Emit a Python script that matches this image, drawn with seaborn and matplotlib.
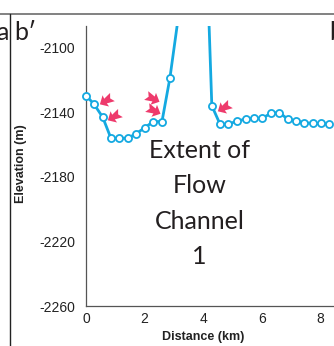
import numpy as np
import pandas as pd
import matplotlib
matplotlib.use("Agg")
import matplotlib.pyplot as plt
from matplotlib.path import Path
from matplotlib.lines import Line2D
import seaborn as sns

# ---- data ----
distance_km = [0.0, 0.27, 0.57, 0.85, 1.14, 1.42, 1.70, 2.01, 2.29, 2.59, 2.86,
               3.46, 4.11,
               4.29, 4.57, 4.85, 5.16, 5.44, 5.73, 6.01, 6.31, 6.59, 6.88, 7.16,
               7.44, 7.73, 8.01, 8.30]
elevation_m = [-2129.7, -2134.9, -2143.1, -2156.1, -2156.1, -2156.1, -2153.4,
               -2149.5, -2145.8, -2145.8, -2118.9,
               -2040.0, -2040.0,
               -2136.0, -2147.4, -2147.4, -2145.4, -2144.3, -2143.7, -2143.7,
               -2140.6, -2140.2, -2144.3, -2145.4, -2146.5, -2146.9, -2146.9,
               -2147.4]
x_ticks = [0, 2, 4, 6, 8]
y_ticks = [-2100, -2140, -2180, -2220, -2260]
channel_text = ["Extent of", "Flow", "Channel", "1"]
# arrow annotations: (x, y, angle in degrees)
arrow_x = [0.68, 0.95, 2.25, 2.28, 4.70]
arrow_y = [-2132.4, -2142.3, -2131.1, -2138.6, -2136.7]
arrow_angle = [210, 210, -25, -25, 210]

YMIN, YMAX = -2260, -2086.6
XMIN, XMAX = 0, 8.6

sns.set_style("white")
plt.rcParams["font.family"] = ["Liberation Sans", "DejaVu Sans"]
plt.rcParams["axes.unicode_minus"] = False

df = pd.DataFrame({"distance": distance_km, "elevation": elevation_m})
df_in = df[(df.elevation >= YMIN) & (df.elevation <= YMAX)]

fig = plt.figure(figsize=(3.34, 3.46), dpi=100)
ax = fig.add_axes([86 / 334, 40 / 346, (XMAX - XMIN) * 29.33 / 334, 280 / 346])

line_color = "#14A9E1"
sns.lineplot(data=df, x="distance", y="elevation", ax=ax, color=line_color,
             linewidth=2.0, sort=False, estimator=None)
sns.scatterplot(data=df_in, x="distance", y="elevation", ax=ax, s=26,
                facecolor="white", edgecolor=line_color, linewidth=1.3,
                clip_on=False, zorder=5)

ax.set_xlim(XMIN, XMAX)
ax.set_ylim(YMIN, YMAX)
ax.set_xticks(x_ticks)
ax.set_yticks(y_ticks)
ax.set_xticklabels([str(v) for v in x_ticks])
ax.set_yticklabels([str(v) for v in y_ticks])

for s in ["top", "right"]:
    ax.spines[s].set_visible(False)
for s in ["left", "bottom"]:
    ax.spines[s].set_color("#555555")
    ax.spines[s].set_linewidth(0.9)
ax.tick_params(axis="both", direction="out", length=3, width=0.8,
               color="#555555", labelsize=10, labelcolor="#222222")
ax.tick_params(axis="y", pad=5)
ax.tick_params(axis="x", pad=1.5)

ax.set_xlabel("Distance (km)", fontsize=9, fontweight="bold", color="#222222")
ax.set_ylabel("Elevation (m)", fontsize=9, fontweight="bold", color="#222222")
ax.xaxis.set_label_coords(0.464, -0.09)
ax.yaxis.set_label_coords(-0.234, 0.51)

# big annotation text
text_y = [-2168.3, -2190.0, -2212.3, -2234.0]
for t, yy in zip(channel_text, text_y):
    ax.text(3.87, yy, t, ha="center", va="baseline", fontsize=18,
            family=["Lato", "DejaVu Sans"], color="#231F20")

# pink arrows
base = np.array([(1, 0), (0.1, 0.85), (0.15, 0.35), (-0.9, 0.62), (-0.55, 0),
                 (-0.9, -0.62), (0.15, -0.35), (0.1, -0.85), (1, 0)])
for xa, ya, ang in zip(arrow_x, arrow_y, arrow_angle):
    th = np.deg2rad(ang)
    rot = np.array([[np.cos(th), -np.sin(th)], [np.sin(th), np.cos(th)]])
    verts = base @ rot.T
    codes = [Path.MOVETO] + [Path.LINETO] * (len(verts) - 2) + [Path.CLOSEPOLY]
    ax.plot([xa], [ya], marker=Path(verts, codes), markersize=12,
            color="#EE3A6C", markeredgewidth=0, linestyle="none",
            clip_on=False, zorder=6)

# panel frame decorations
fig.add_artist(Line2D([0, 1], [1 - 14 / 346, 1 - 14 / 346], color="#777777",
                      linewidth=1.3, transform=fig.transFigure))
fig.add_artist(Line2D([10 / 334, 10 / 334], [0, 1 - 14 / 346], color="#222222",
                      linewidth=1.0, transform=fig.transFigure))
fig.text(8.5 / 334, 1 - 40 / 346, "a", ha="right", va="baseline", fontsize=18,
         family=["Lato", "DejaVu Sans"], color="#231F20")
fig.text(14 / 334, 1 - 40 / 346, "b\u2032", ha="left", va="baseline", fontsize=18,
         family=["Lato", "DejaVu Sans"], color="#231F20")
fig.text(329.5 / 334, 1 - 40 / 346, "b", ha="left", va="baseline", fontsize=18,
         family=["Lato", "DejaVu Sans"], color="#231F20")

fig.savefig("out.png", dpi=100)
